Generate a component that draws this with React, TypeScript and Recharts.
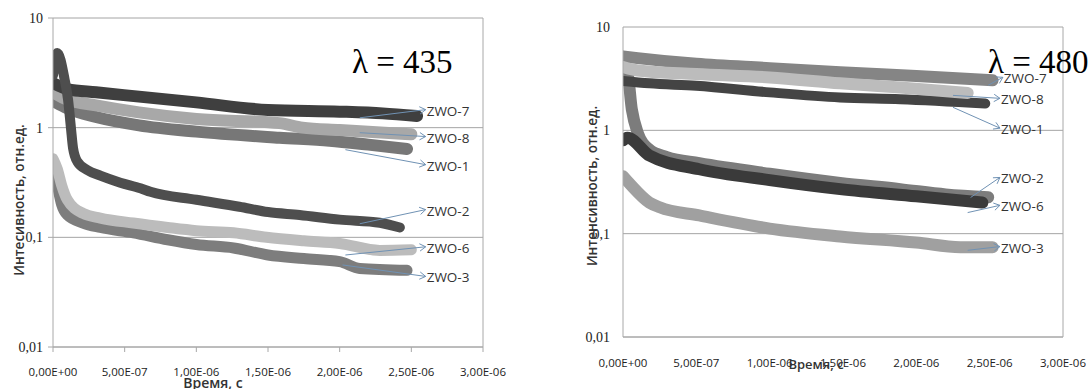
import { CartesianGrid, Line, LineChart, ReferenceLine, XAxis, YAxis } from "recharts";

// times in microseconds, intensities in relative units

// λ = 435
const t435Zwo7 = [0, 0.1, 0.3, 0.6, 1.0, 1.5, 2.0, 2.3, 2.54];
const v435Zwo7 = [2.55, 2.25, 2.1, 1.92, 1.7, 1.45, 1.4, 1.35, 1.28];
const t435Zwo8 = [0, 0.1, 0.3, 0.6, 1.0, 1.58, 1.74, 2.0, 2.5];
const v435Zwo8 = [2.1, 1.8, 1.6, 1.38, 1.2, 1.1, 1.0, 0.95, 0.87];
const t435Zwo1 = [0, 0.1, 0.3, 0.6, 1.0, 1.58, 1.93, 2.2, 2.47];
const v435Zwo1 = [1.75, 1.5, 1.25, 1.05, 0.92, 0.81, 0.76, 0.7, 0.64];
const t435Zwo2 = [0, 0.03, 0.08, 0.105, 0.125, 0.14, 0.17, 0.24, 0.33, 0.47, 0.61, 0.68, 1.0, 1.3, 1.5, 1.72, 2.0, 2.28, 2.42];
const v435Zwo2 = [3.0, 4.8, 2.8, 1.8, 1.0, 0.65, 0.49, 0.41, 0.365, 0.315, 0.28, 0.26, 0.22, 0.19, 0.17, 0.16, 0.145, 0.136, 0.123];
const t435Zwo6 = [0, 0.03, 0.06, 0.1, 0.21, 0.33, 0.56, 0.8, 1.0, 1.26, 1.49, 1.75, 2.0, 2.28, 2.5];
const v435Zwo6 = [0.52, 0.42, 0.3, 0.22, 0.165, 0.15, 0.135, 0.123, 0.115, 0.11, 0.1, 0.093, 0.088, 0.076, 0.077];
const t435Zwo3 = [0, 0.03, 0.06, 0.1, 0.21, 0.33, 0.56, 0.8, 1.0, 1.26, 1.5, 1.75, 2.0, 2.14, 2.47];
const v435Zwo3 = [0.45, 0.3, 0.2, 0.16, 0.135, 0.123, 0.11, 0.095, 0.086, 0.08, 0.069, 0.064, 0.06, 0.052, 0.05];

// λ = 480
const t480Zwo7 = [0, 0.1, 0.5, 1.0, 1.48, 2.0, 2.52];
const v480Zwo7 = [5.2, 5.0, 4.4, 4.0, 3.65, 3.35, 3.05];
const t480Zwo8 = [0, 0.1, 0.5, 1.0, 1.48, 1.89, 2.35];
const v480Zwo8 = [4.1, 3.8, 3.5, 3.25, 2.85, 2.6, 2.3];
const t480Zwo1 = [0, 0.18, 0.5, 1.0, 1.48, 1.89, 2.47];
const v480Zwo1 = [3.0, 2.85, 2.7, 2.33, 2.08, 2.0, 1.82];
const t480Zwo2 = [0, 0.03, 0.06, 0.1, 0.18, 0.3, 0.52, 1.0, 1.48, 1.89, 2.2, 2.49];
const v480Zwo2 = [4.0, 3.6, 1.6, 0.95, 0.65, 0.55, 0.48, 0.38, 0.31, 0.27, 0.24, 0.225];
const t480Zwo6 = [0, 0.03, 0.18, 0.52, 1.0, 1.48, 2.0, 2.45];
const v480Zwo6 = [0.8, 0.85, 0.57, 0.42, 0.33, 0.27, 0.23, 0.2];
const t480Zwo3 = [0, 0.05, 0.18, 0.25, 0.52, 1.0, 1.48, 2.0, 2.3, 2.52];
const v480Zwo3 = [0.36, 0.3, 0.2, 0.18, 0.15, 0.112, 0.094, 0.082, 0.074, 0.074];

// label arrows: [t0, v0, t1, v1]
const arrows435: Record<string, number[]> = {
  "ZWO-7": [2.14, 1.23, 2.6, 1.46],
  "ZWO-8": [2.14, 0.9, 2.6, 0.83],
  "ZWO-1": [2.04, 0.63, 2.6, 0.46],
  "ZWO-2": [2.14, 0.133, 2.6, 0.179],
  "ZWO-6": [2.04, 0.069, 2.6, 0.082],
  "ZWO-3": [2.02, 0.056, 2.6, 0.044],
};
const arrows480: Record<string, number[]> = {
  "ZWO-7": [2.49, 2.73, 2.59, 3.26],
  "ZWO-8": [2.25, 2.18, 2.57, 2.04],
  "ZWO-1": [2.25, 1.67, 2.57, 1.05],
  "ZWO-2": [2.37, 0.224, 2.57, 0.35],
  "ZWO-6": [2.35, 0.16, 2.57, 0.188],
  "ZWO-3": [2.35, 0.069, 2.57, 0.075],
};

const xTicks = [0, 0.5e-6, 1e-6, 1.5e-6, 2e-6, 2.5e-6, 3e-6];
const yTicks = [0.01, 0.1, 1, 10];

const toPoints = (ts: number[], vs: number[]) => ts.map((t, i) => ({ t: t * 1e-6, v: vs[i] }));

const fmtX = (v: number) => {
  const [m, e] = v.toExponential(2).split("e");
  const n = Number(e);
  return `${m.replace(".", ",")}E${n < 0 ? "-" : "+"}${String(Math.abs(n)).padStart(2, "0")}`;
};
const fmtY = (v: number) => String(v).replace(".", ",");

interface Series {
  name: string;
  t: number[];
  v: number[];
  color: string;
  width: number;
}

const series435: Series[] = [
  { name: "ZWO-3", t: t435Zwo3, v: v435Zwo3, color: "#7d7d7d", width: 11 },
  { name: "ZWO-6", t: t435Zwo6, v: v435Zwo6, color: "#bcbcbc", width: 11 },
  { name: "ZWO-1", t: t435Zwo1, v: v435Zwo1, color: "#777777", width: 12 },
  { name: "ZWO-8", t: t435Zwo8, v: v435Zwo8, color: "#a8a8a8", width: 12 },
  { name: "ZWO-7", t: t435Zwo7, v: v435Zwo7, color: "#3f3f3f", width: 12 },
  { name: "ZWO-2", t: t435Zwo2, v: v435Zwo2, color: "#4e4e4e", width: 10 },
];
const series480: Series[] = [
  { name: "ZWO-3", t: t480Zwo3, v: v480Zwo3, color: "#a0a0a0", width: 12 },
  { name: "ZWO-2", t: t480Zwo2, v: v480Zwo2, color: "#7c7c7c", width: 12 },
  { name: "ZWO-6", t: t480Zwo6, v: v480Zwo6, color: "#3a3a3a", width: 12 },
  { name: "ZWO-7", t: t480Zwo7, v: v480Zwo7, color: "#858585", width: 12 },
  { name: "ZWO-1", t: t480Zwo1, v: v480Zwo1, color: "#444444", width: 10 },
  { name: "ZWO-8", t: t480Zwo8, v: v480Zwo8, color: "#bcbcbc", width: 12 },
];

const ARROW = "#7092b4";

function arrowShape(text: string) {
  return (p: any) => {
    const { x1, y1, x2, y2 } = p;
    if ([x1, y1, x2, y2].some((n) => typeof n !== "number" || isNaN(n))) return <g />;
    const ang = Math.atan2(y2 - y1, x2 - x1);
    const h = 7;
    const a1 = ang + Math.PI - 0.55;
    const a2 = ang + Math.PI + 0.55;
    const pts = `${x2 + h * Math.cos(a1)},${y2 + h * Math.sin(a1)} ${x2},${y2} ${x2 + h * Math.cos(a2)},${y2 + h * Math.sin(a2)}`;
    return (
      <g>
        <line x1={x1} y1={y1} x2={x2} y2={y2} stroke={ARROW} strokeWidth={1} />
        <polyline points={pts} fill="none" stroke={ARROW} strokeWidth={1} />
        <text x={x2 + 1} y={y2 + 6} fontFamily="Open Sans" fontSize={13.5} fill="#333">
          {text}
        </text>
      </g>
    );
  };
}

function Panel({
  series,
  arrows,
  width,
  margin,
  yAxisWidth,
  tickSize,
  xTickMargin,
  yTickMargin,
}: {
  series: Series[];
  arrows: Record<string, number[]>;
  width: number;
  margin: { top: number; right: number; bottom: number; left: number };
  yAxisWidth: number;
  tickSize: number;
  xTickMargin: number;
  yTickMargin: number;
}) {
  return (
    <LineChart width={width} height={389} margin={margin}>
      <CartesianGrid vertical={false} stroke="#a4a4a4" />
      <XAxis
        type="number"
        dataKey="t"
        domain={[0, 3e-6]}
        ticks={xTicks}
        tickFormatter={fmtX}
        height={30}
        tickSize={tickSize}
        tickMargin={xTickMargin}
        stroke="#a8a8a8"
        tick={{ fill: "#222", fontSize: 11.5, fontFamily: "Open Sans" }}
        allowDataOverflow
      />
      <YAxis
        type="number"
        scale="log"
        dataKey="v"
        domain={[0.01, 10]}
        ticks={yTicks}
        tickFormatter={fmtY}
        width={yAxisWidth}
        tickSize={tickSize}
        tickMargin={yTickMargin}
        stroke="#a8a8a8"
        tick={{ fill: "#222", fontSize: 14, fontFamily: "Liberation Serif" }}
        allowDataOverflow
      />
      <ReferenceLine x={3e-6} stroke="#a8a8a8" />
      {series.map((s) => (
        <Line
          key={s.name}
          data={toPoints(s.t, s.v)}
          dataKey="v"
          type="monotone"
          stroke={s.color}
          strokeWidth={s.width}
          strokeLinejoin="round"
          strokeLinecap="round"
          dot={false}
          isAnimationActive={false}
        />
      ))}
      {Object.entries(arrows).map(([name, a]) => (
        <ReferenceLine
          key={name}
          segment={[
            { x: a[0] * 1e-6, y: a[1] },
            { x: a[2] * 1e-6, y: a[3] },
          ]}
          shape={arrowShape(name)}
        />
      ))}
    </LineChart>
  );
}

export default function App() {
  const title = { fontFamily: "Open Sans", fontWeight: 600, fill: "#333" } as const;
  return (
    <div style={{ position: "absolute", left: 0, top: 0, width: 1088, height: 389, background: "#fff" }}>
      <div style={{ position: "absolute", left: 0, top: 0 }}>
        <Panel
          series={series435}
          arrows={arrows435}
          width={540}
          margin={{ top: 18, right: 57, bottom: 12, left: 0 }}
          yAxisWidth={53}
          tickSize={5}
          xTickMargin={16}
          yTickMargin={5}
        />
      </div>
      <div style={{ position: "absolute", left: 560, top: 0 }}>
        <Panel
          series={series480}
          arrows={arrows480}
          width={528}
          margin={{ top: 27, right: 25, bottom: 22, left: 0 }}
          yAxisWidth={63}
          tickSize={0}
          xTickMargin={22}
          yTickMargin={13}
        />
      </div>
      <svg width={1088} height={389} style={{ position: "absolute", left: 0, top: 0, pointerEvents: "none" }}>
        <text x={19} y={200} transform="rotate(-90 19 200)" textAnchor="middle" dominantBaseline="central" fontSize={13.5} {...title}>
          Интесивность, отн.ед.
        </text>
        <text x={592} y={186} transform="rotate(-90 592 186)" textAnchor="middle" dominantBaseline="central" fontSize={13.5} {...title}>
          Интенсивность, отн.ед.
        </text>
        <text x={213} y={388} textAnchor="middle" fontSize={14} {...title}>
          Время, с
        </text>
        <text x={816} y={369} textAnchor="middle" fontSize={13} {...title}>
          Время, с
        </text>
        <text x={352} y={73} fontFamily="Liberation Serif" fontSize={33} fill="#000">
          λ = 435
        </text>
        <text x={988} y={73} fontFamily="Liberation Serif" fontSize={33} fill="#000">
          λ = 480
        </text>
      </svg>
    </div>
  );
}
